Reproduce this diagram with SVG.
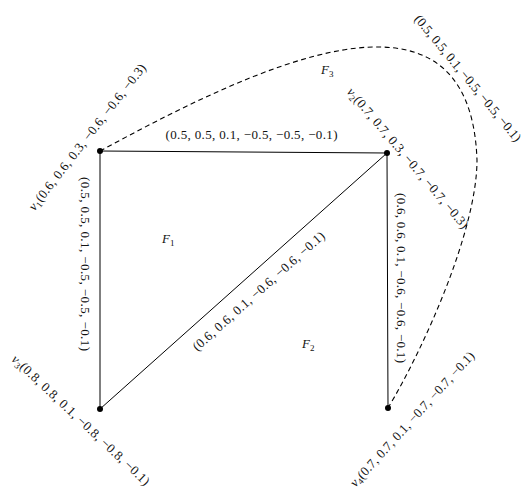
<svg xmlns="http://www.w3.org/2000/svg" width="526" height="489" viewBox="0 0 526 489">
<style>
.e{stroke:#000;stroke-width:1;fill:none}
.d{stroke:#000;stroke-width:1.1;fill:none;stroke-dasharray:5 3.5}
text{font-family:"Liberation Serif","Times New Roman",serif;font-size:13px;fill:#111}
.i{font-style:italic}
.s{font-size:9px}
</style>
<rect width="526" height="489" fill="#fff"/>
<g id="connectors">
<path class="e" d="M100,151 L387,153"/>
<path class="e" d="M100,151 L100,409"/>
<path class="e" d="M100,409 L387,153"/>
<path class="e" d="M387,153 L388,408"/>
<path class="d" d="M100,151 C250,70 470,-40 477,160 C477,230 424,348 388,408"/>
<text transform="translate(251.5,139)" text-anchor="middle" textLength="172" lengthAdjust="spacing">(0.5, 0.5, 0.1, −0.5, −0.5, −0.1)</text>
<text transform="translate(85,264) rotate(90)" y="4.5" text-anchor="middle" textLength="174" lengthAdjust="spacing">(0.5, 0.5, 0.1, −0.5, −0.5, −0.1)</text>
<text transform="translate(401,278) rotate(90)" y="4.5" text-anchor="middle" textLength="170" lengthAdjust="spacing">(0.6, 0.6, 0.1, −0.6, −0.6, −0.1)</text>
<text transform="translate(258.5,291) rotate(-41.7)" y="4.5" text-anchor="middle" textLength="172" lengthAdjust="spacing">(0.6, 0.6, 0.1, −0.6, −0.6, −0.1)</text>
<text transform="translate(468,78) rotate(50.5)" y="4.5" text-anchor="middle" textLength="160" lengthAdjust="spacing">(0.5, 0.5, 0.1, −0.5, −0.5, −0.1)</text>
</g>
<g id="v1">
<circle cx="100" cy="151" r="3"/>
<text transform="translate(87,137) rotate(-52)" y="4.5" text-anchor="middle" textLength="182" lengthAdjust="spacing"><tspan class="i">v</tspan><tspan class="s" dy="2.5">1</tspan><tspan dy="-2.5">(0.6, 0.6, 0.3, −0.6, −0.6, −0.3)</tspan></text>
</g>
<g id="v2">
<circle cx="387" cy="153" r="3"/>
<text transform="translate(408,158) rotate(49.7)" y="4.5" text-anchor="middle" textLength="180" lengthAdjust="spacing"><tspan class="i">v</tspan><tspan class="s" dy="2.5">2</tspan><tspan dy="-2.5">(0.7, 0.7, 0.3, −0.7, −0.7, −0.3)</tspan></text>
</g>
<g id="v3">
<circle cx="100" cy="409" r="3"/>
<text transform="translate(81,420) rotate(43.2)" y="4.5" text-anchor="middle" textLength="184" lengthAdjust="spacing"><tspan class="i">v</tspan><tspan class="s" dy="2.5">3</tspan><tspan dy="-2.5">(0.8, 0.8, 0.1, −0.8, −0.8, −0.1)</tspan></text>
</g>
<g id="v4">
<circle cx="388" cy="408" r="3"/>
<text transform="translate(412,419) rotate(-47.7)" y="4.5" text-anchor="middle" textLength="178" lengthAdjust="spacing"><tspan class="i">v</tspan><tspan class="s" dy="2.5">4</tspan><tspan dy="-2.5">(0.7, 0.7, 0.1, −0.7, −0.7, −0.1)</tspan></text>
</g>
<g id="F1"><text x="162" y="243"><tspan class="i">F</tspan><tspan class="s" dy="2.5">1</tspan></text></g>
<g id="F2"><text x="302" y="348"><tspan class="i">F</tspan><tspan class="s" dy="2.5">2</tspan></text></g>
<g id="F3"><text x="321" y="74"><tspan class="i">F</tspan><tspan class="s" dy="2.5">3</tspan></text></g>
</svg>
